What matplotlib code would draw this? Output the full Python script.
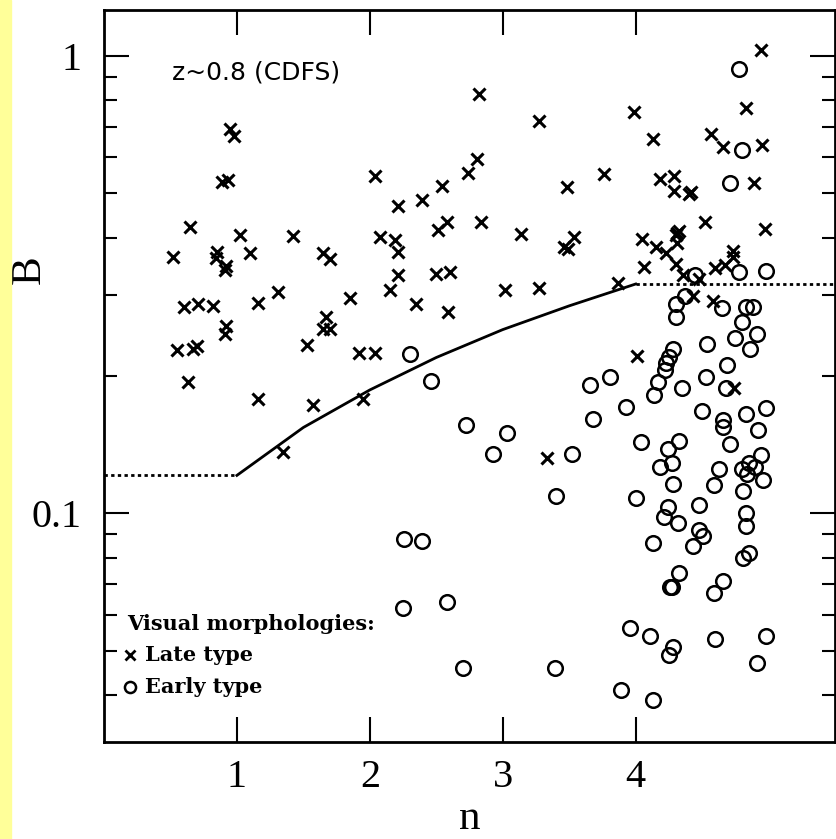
import matplotlib
matplotlib.use("Agg")
import matplotlib.pyplot as plt
from matplotlib.patches import Rectangle

# late type (crosses): Sersic index n and bulge fraction B
late_n = [0.95, 0.98, 0.89, 0.93, 0.65, 0.52, 0.85, 0.84, 0.92, 0.91,
          1.02, 1.10, 1.42, 1.65, 1.70, 0.60, 0.71, 0.82, 1.16, 1.31,
          1.85, 1.67, 1.65, 1.70, 0.92, 0.91, 0.55, 0.67, 0.70, 1.53,
          0.63, 1.16, 1.57, 1.35, 2.82, 3.27, 2.81, 2.74, 2.04, 2.54,
          2.39, 2.21, 3.48, 2.58, 2.51, 2.84, 2.08, 2.19, 2.21, 3.14,
          3.54, 3.46, 3.49, 2.21, 2.50, 2.60, 2.15, 3.02, 3.27, 2.35,
          2.59, 1.92, 2.04, 1.95, 3.33, 4.94, 3.99, 4.13, 4.83, 4.57,
          4.66, 4.95, 3.76, 4.18, 4.29, 4.29, 4.40, 4.42, 4.89, 4.52,
          4.97, 4.05, 4.15, 4.23, 4.31, 4.33, 4.30, 4.31, 4.30, 4.06,
          4.36, 4.48, 4.60, 4.67, 4.73, 4.73, 3.87, 4.43, 4.58, 4.01,
          4.74]
late_B = [0.691, 0.668, 0.531, 0.534, 0.423, 0.364, 0.372, 0.361, 0.347, 0.340,
          0.405, 0.371, 0.404, 0.370, 0.359, 0.282, 0.286, 0.284, 0.288, 0.304,
          0.295, 0.269, 0.253, 0.253, 0.256, 0.247, 0.227, 0.228, 0.232, 0.233,
          0.194, 0.178, 0.172, 0.136, 0.826, 0.721, 0.596, 0.554, 0.545, 0.518,
          0.483, 0.470, 0.517, 0.434, 0.415, 0.434, 0.401, 0.396, 0.373, 0.407,
          0.401, 0.382, 0.379, 0.331, 0.333, 0.336, 0.308, 0.308, 0.310, 0.286,
          0.276, 0.224, 0.224, 0.178, 0.132, 1.030, 0.753, 0.657, 0.767, 0.675,
          0.631, 0.639, 0.552, 0.539, 0.547, 0.505, 0.498, 0.503, 0.526, 0.434,
          0.418, 0.397, 0.382, 0.371, 0.410, 0.413, 0.405, 0.389, 0.351, 0.346,
          0.331, 0.325, 0.343, 0.348, 0.375, 0.364, 0.319, 0.298, 0.291, 0.221,
          0.188]

# early type (circles)
early_n = [4.78, 4.80, 4.71, 4.45, 4.78, 4.98, 4.37, 4.30, 4.30, 4.65,
           4.83, 4.88, 4.80, 4.91, 4.75, 4.86, 4.54, 4.28, 4.25, 4.23,
           4.22, 4.69, 4.53, 3.81, 3.66, 4.17, 4.14, 4.35, 4.68, 3.68,
           3.93, 4.50, 4.83, 4.98, 4.66, 4.66, 4.92, 4.71, 4.33, 4.24,
           4.04, 4.27, 4.18, 4.28, 4.94, 4.63, 4.80, 4.85, 4.90, 4.84,
           4.96, 4.81, 4.59, 4.00, 4.24, 4.21, 4.32, 4.48, 4.83, 4.83,
           4.13, 4.48, 4.51, 4.43, 4.85, 4.81, 4.33, 4.26, 4.27, 4.66,
           4.59, 3.96, 4.11, 4.28, 4.25, 4.60, 4.98, 4.91, 3.89, 4.13,
           2.30, 2.46, 2.72, 3.03, 2.93, 3.52, 3.40, 2.26, 2.39, 2.25,
           2.58, 2.70, 3.39]
early_B = [0.935, 0.623, 0.528, 0.332, 0.336, 0.339, 0.298, 0.286, 0.268, 0.281,
           0.282, 0.283, 0.262, 0.247, 0.242, 0.229, 0.234, 0.228, 0.220, 0.213,
           0.206, 0.211, 0.199, 0.199, 0.191, 0.194, 0.181, 0.188, 0.188, 0.161,
           0.171, 0.167, 0.165, 0.170, 0.160, 0.154, 0.152, 0.142, 0.144, 0.138,
           0.143, 0.129, 0.126, 0.116, 0.134, 0.125, 0.125, 0.129, 0.126, 0.122,
           0.118, 0.112, 0.115, 0.108, 0.103, 0.098, 0.095, 0.104, 0.100, 0.094,
           0.086, 0.092, 0.089, 0.085, 0.082, 0.080, 0.074, 0.069, 0.069, 0.071,
           0.067, 0.056, 0.054, 0.051, 0.049, 0.053, 0.054, 0.047, 0.041, 0.039,
           0.223, 0.195, 0.156, 0.150, 0.135, 0.135, 0.109, 0.088, 0.087, 0.062,
           0.064, 0.046, 0.046]

# separating line (solid part) and its flat dotted extensions
sep_n = [1.0, 1.5, 2.0, 2.5, 3.0, 3.5, 4.0]
sep_B = [0.121, 0.154, 0.186, 0.219, 0.252, 0.284, 0.317]
low_n = [0.0, 1.0]
low_B = [0.121, 0.121]
high_n = [4.0, 5.5]
high_B = [0.317, 0.317]

plt.rcParams['font.family'] = ['Liberation Serif', 'DejaVu Serif']

fig = plt.figure(figsize=(8.36, 8.39), dpi=100)
fig.patches.append(Rectangle((0, 0), 11 / 836, 1, transform=fig.transFigure,
                             color='#ffff99', zorder=0))
ax = fig.add_axes([104 / 836, 1 - 742 / 839, 731 / 836, 732 / 839])

ax.plot(late_n, late_B, 'x', color='black', ms=8, mew=2.2, ls='none')
ax.plot(early_n, early_B, 'o', mfc='none', mec='black', ms=10.5, mew=1.8, ls='none')
ax.plot(sep_n, sep_B, color='black', lw=2)
ax.plot(low_n, low_B, color='black', lw=2, ls=(0, (1.2, 1.2)))
ax.plot(high_n, high_B, color='black', lw=2, ls=(0, (1.2, 1.2)))

ax.set_yscale('log')
ax.set_xlim(0, 5.5)
ax.set_ylim(10 ** -1.5, 10 ** 0.1)
ax.set_xticks([1, 2, 3, 4])
ax.set_yticks([0.1, 1])
ax.set_yticklabels(['0.1', '1'])
ax.yaxis.set_minor_formatter(plt.NullFormatter())
ax.tick_params(which='both', direction='in', top=True, right=True, width=1.5,
               labelsize=29)
ax.tick_params(which='major', length=18)
ax.tick_params(which='minor', length=9.5)
ax.tick_params(axis='x', pad=12)
ax.tick_params(axis='y', pad=16)
for sp in ax.spines.values():
    sp.set_linewidth(2)

ax.set_xlabel('n', fontsize=31, labelpad=3)
ax.set_ylabel('B', fontsize=31)
ax.yaxis.set_label_coords(-0.075, 0.645)

ax.text(0.093, 0.914, 'z~0.8 (CDFS)', transform=ax.transAxes, fontsize=18,
        family='DejaVu Sans', va='center', ha='left')

# legend block
leg_font = dict(fontsize=15, fontweight='bold', family='DejaVu Serif', va='center')
ax.text(0.031, 0.161, 'Visual morphologies:', transform=ax.transAxes, **leg_font)
ax.plot([0.036], [0.119], 'x', color='black', ms=6.5, mew=2, transform=ax.transAxes)
ax.text(0.056, 0.119, 'Late type', transform=ax.transAxes, **leg_font)
ax.plot([0.036], [0.075], 'o', mfc='none', mec='black', ms=8, mew=1.8,
        transform=ax.transAxes)
ax.text(0.056, 0.075, 'Early type', transform=ax.transAxes, **leg_font)

plt.savefig('out.png', dpi=100)
